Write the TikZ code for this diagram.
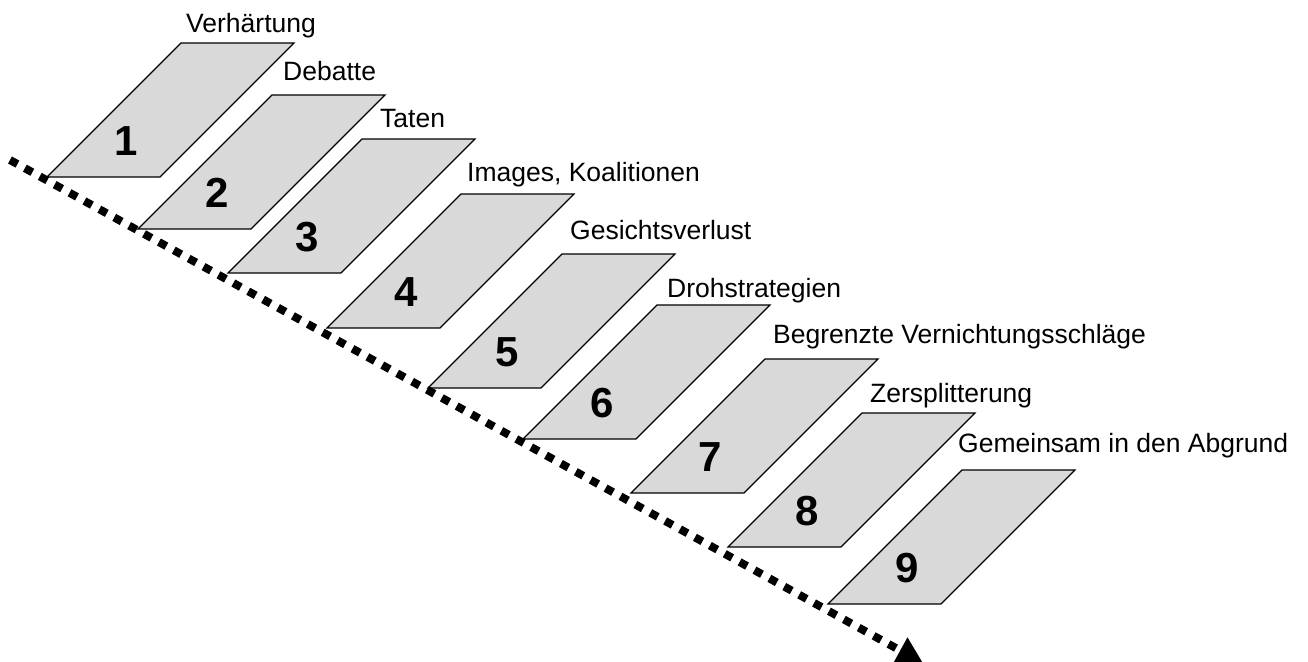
\documentclass[tikz,border=0pt]{standalone}
\usepackage{fontspec}
\setmainfont{Liberation Sans}
\usetikzlibrary{arrows.meta}
\definecolor{grideschis}{RGB}{217,217,217}

\begin{document}
\begin{tikzpicture}[x=1pt,y=-1pt,
    faza/.style={draw=black,line width=1.1pt,fill=grideschis},
    cifra/.style={font=\fontsize{42}{44}\selectfont\bfseries},
    eticheta/.style={anchor=base west,inner sep=0pt,font=\fontsize{26.5}{30}\selectfont}]
  \useasboundingbox (0,0) rectangle (1308,661);

  % etape
  \foreach \i/\x/\y in {1/47/177, 2/138/229, 3/228/273, 4/327/328, 5/428/388,
                        6/523/439, 7/631/493, 8/728/547, 9/828/604}{
    \draw[faza] (\x,\y) -- ++(113,0) -- ++(134,-134) -- ++(-113,0) -- cycle;
    \node[cifra] (n\i) at (\x+79,\y-36) {\i};
  }

  % denumiri
  \foreach \i/\x/\y/\txt in {1/186/33/Verhärtung, 2/283/80/Debatte, 3/380/127/Taten,
                             4/467/181/{Images, Koalitionen}, 5/570/239/Gesichtsverlust,
                             6/667/297/Drohstrategien, 7/773/343/Begrenzte Vernichtungsschläge,
                             8/870/402/Zersplitterung, 9/958/452/Gemeinsam in den Abgrund}
    \node[eticheta] (e\i) at (\x,\y) {\txt};

  % axa timpului
  \coordinate (start) at (10,160);
  \coordinate (stop) at (923,663);
  \draw[line width=8pt,dash pattern=on 8.5pt off 8.5pt,-{Triangle[width=28pt,length=26pt]}]
    (start) -- (stop);
\end{tikzpicture}
\end{document}
